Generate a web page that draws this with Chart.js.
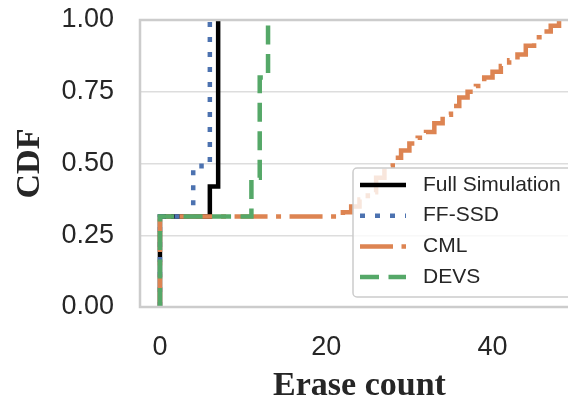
<!DOCTYPE html>
<html>
<head>
<meta charset="utf-8">
<script src="https://cdn.jsdelivr.net/npm/chart.js@4.4.1/dist/chart.umd.min.js"></script>
<style>
  html, body { margin: 0; padding: 0; background: #fff; overflow: hidden; width: 568px; height: 403px; }
  #wrap { position: relative; width: 600px; height: 403px; }
</style>
</head>
<body>
<div id="wrap"><canvas id="cdf" width="600" height="403"></canvas></div>
<script>
const seriesNames = ['Full Simulation', 'FF-SSD', 'CML', 'DEVS'];

const fullSimX = [0, 0, 6, 7];
const fullSimY = [0, 0.315, 0.42, 1.0];

const ffSsdX = [0, 0, 4, 5, 6];
const ffSsdY = [0, 0.315, 0.48, 0.50, 1.0];

const cmlX = [0, 0, 22, 23, 24, 25, 26, 27, 28, 29, 30, 31, 32, 33, 34, 35,
              36, 37, 38, 39, 40, 41, 42, 43, 44, 45, 46, 47, 48];
const cmlY = [0, 0.315, 0.33, 0.35, 0.375, 0.40, 0.45, 0.49, 0.52, 0.545, 0.57, 0.59, 0.61, 0.64, 0.67, 0.70,
              0.73, 0.75, 0.77, 0.80, 0.82, 0.84, 0.86, 0.88, 0.91, 0.94, 0.96, 0.98, 1.0];

const devsX = [0, 0, 11, 12, 13];
const devsY = [0, 0.315, 0.45, 0.80, 1.0];

const xTicks = [0, 20, 40];
const yTicks = [0, 0.25, 0.5, 0.75, 1.0];

// --- helpers ---
const toPoints = (xs, ys) => xs.map((x, i) => ({ x, y: ys[i] }));

const makeSet = (label, xs, ys, color, dash, order) => ({
  label,
  data: toPoints(xs, ys),
  borderColor: color,
  borderWidth: 4.5,
  borderDash: dash,
  borderCapStyle: 'butt',
  stepped: 'before',
  pointRadius: 0,
  fill: false,
  order
});

// frame around the plot area (drawn over the lines like matplotlib spines)
const framePlugin = {
  id: 'frame',
  afterDatasetsDraw(chart) {
    const { ctx, chartArea: a } = chart;
    ctx.save();
    ctx.strokeStyle = '#cccccc';
    ctx.lineWidth = 2.5;
    ctx.strokeRect(a.left, a.top, a.right - a.left, a.bottom - a.top);
    ctx.restore();
  }
};

// legend box inside the axes, lower right
const boxLegend = {
  id: 'boxLegend',
  afterDraw(chart) {
    const { ctx, chartArea: a } = chart;
    const bx = a.left + 213, by = a.top + 148, bw = 222, bh = 129;
    ctx.save();
    ctx.beginPath();
    ctx.roundRect(bx, by, bw, bh, 4);
    ctx.fillStyle = 'rgba(255,255,255,0.8)';
    ctx.fill();
    ctx.strokeStyle = '#cccccc';
    ctx.lineWidth = 1.5;
    ctx.stroke();

    const legendSets = [...chart.data.datasets].sort((p, q) => seriesNames.indexOf(p.label) - seriesNames.indexOf(q.label));
    legendSets.forEach((ds, i) => {
      const y = by + 17 + i * 30.7;
      ctx.setLineDash(ds.borderDash || []);
      ctx.lineDashOffset = 0;
      ctx.lineCap = 'butt';
      ctx.strokeStyle = ds.borderColor;
      ctx.lineWidth = 4.5;
      ctx.beginPath();
      ctx.moveTo(bx + 7, y);
      ctx.lineTo(bx + 53, y);
      ctx.stroke();
      ctx.setLineDash([]);
      ctx.fillStyle = '#262626';
      ctx.font = '21px "Liberation Sans", Arial, sans-serif';
      ctx.textBaseline = 'middle';
      ctx.fillText(ds.label, bx + 70, y);
    });
    ctx.restore();
  }
};

Chart.defaults.font.family = '"Liberation Sans", Arial, sans-serif';
Chart.defaults.color = '#262626';

// DEVS gets the lowest order so it is drawn last (on top), like the reference
new Chart(document.getElementById('cdf'), {
  type: 'line',
  data: {
    datasets: [
      makeSet(seriesNames[0], fullSimX, fullSimY, '#000000', [], 3),
      makeSet(seriesNames[1], ffSsdX, ffSsdY, '#4c72b0', [5, 10], 2),
      makeSet(seriesNames[2], cmlX, cmlY, '#dd8452', [33, 8.5, 5, 8.5], 1),
      makeSet(seriesNames[3], devsX, devsY, '#55a868', [19, 9.5], 0)
    ]
  },
  options: {
    responsive: false,
    animation: false,
    devicePixelRatio: 1,
    layout: { padding: { left: 0, top: 20, right: 21, bottom: 0 } },
    plugins: { legend: { display: false }, tooltip: { enabled: false } },
    scales: {
      x: {
        type: 'linear',
        min: -2.4,
        max: 50.4,
        afterBuildTicks: s => { s.ticks = xTicks.map(v => ({ value: v })); },
        afterFit: s => { s.height = 96; s.paddingLeft = 0; s.paddingRight = 0; },
        ticks: { font: { size: 27 }, color: '#262626', padding: 24, maxRotation: 0 },
        grid: { display: false, drawTicks: false },
        border: { display: false },
        title: {
          display: true,
          text: 'Erase count',
          color: '#262626',
          font: { family: '"Liberation Serif", "Times New Roman", serif', size: 34, weight: 'bold' },
          padding: { top: 0, bottom: -4 }
        }
      },
      y: {
        type: 'linear',
        min: 0,
        max: 1,
        afterBuildTicks: s => { s.ticks = yTicks.map(v => ({ value: v })); },
        afterFit: s => { s.width = 140; s.paddingTop = 0; s.paddingBottom = 0; },
        ticks: { font: { size: 27 }, color: '#262626', padding: 26, callback: v => Number(v).toFixed(2) },
        grid: { color: '#dddddd', lineWidth: 1.5, drawTicks: false },
        border: { display: false },
        title: {
          display: true,
          text: 'CDF',
          color: '#262626',
          font: { family: '"Liberation Serif", "Times New Roman", serif', size: 34, weight: 'bold' },
          padding: { top: 10, bottom: 0 }
        }
      }
    }
  },
  plugins: [framePlugin, boxLegend]
});
</script>
</body>
</html>
